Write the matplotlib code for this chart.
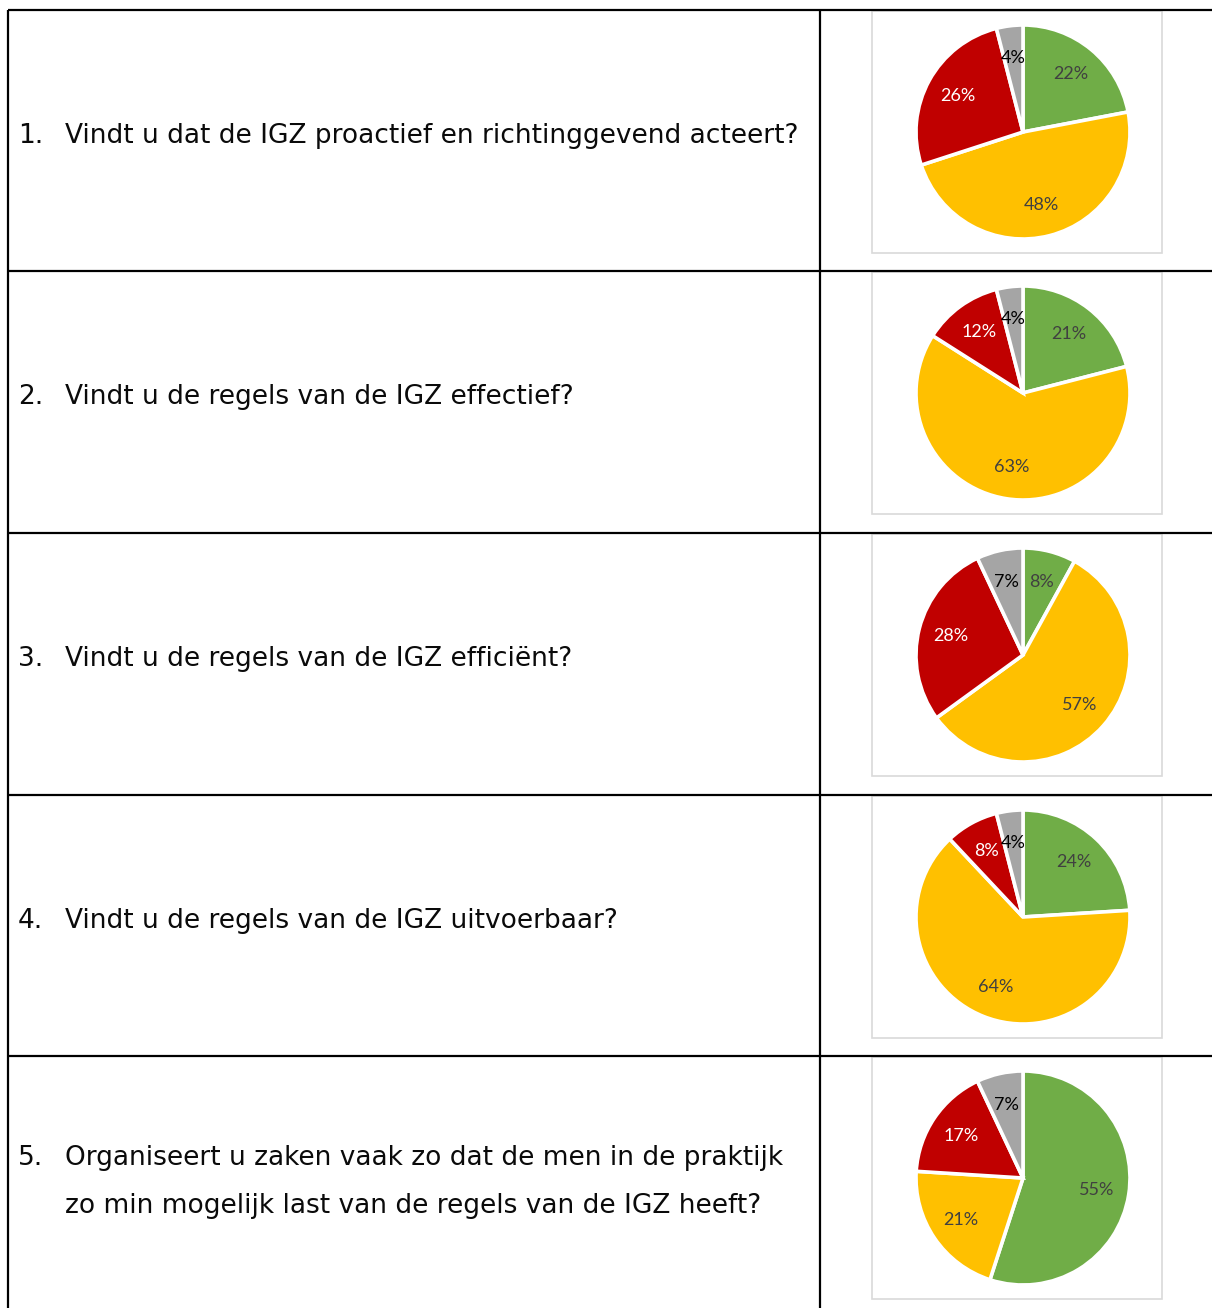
import matplotlib
matplotlib.use("Agg")
import matplotlib.pyplot as plt
from matplotlib.patches import Rectangle

# ---- data ----
numbers = ["1.", "2.", "3.", "4.", "5."]
questions = [
    ["Vindt u dat de IGZ proactief en richtinggevend acteert?"],
    ["Vindt u de regels van de IGZ effectief?"],
    ["Vindt u de regels van de IGZ efficiënt?"],
    ["Vindt u de regels van de IGZ uitvoerbaar?"],
    ["Organiseert u zaken vaak zo dat de men in de praktijk",
     "zo min mogelijk last van de regels van de IGZ heeft?"],
]
green = [22, 21, 8, 24, 55]
yellow = [48, 63, 57, 64, 21]
red = [26, 12, 28, 8, 17]
gray = [4, 4, 7, 4, 7]

colors = ["#70AD47", "#FFC000", "#C00000", "#A5A5A5"]
label_colors = ["#404040", "#404040", "#FFFFFF", "#000000"]

W, H = 1212, 1308
DPI = 100
fig = plt.figure(figsize=(W / DPI, H / DPI), dpi=DPI)
fig.patch.set_facecolor("white")

bg = fig.add_axes([0, 0, 1, 1])
bg.set_xlim(0, W)
bg.set_ylim(H, 0)
bg.axis("off")

row_tops = [10, 271, 533, 795, 1056]
lw_tab = 1.6

# table lines
for y in row_tops:
    bg.plot([8, W], [y, y], color="black", lw=lw_tab, solid_capstyle="butt")
for x in [8, 820]:
    bg.plot([x, x], [row_tops[0], H], color="black", lw=lw_tab, solid_capstyle="butt")

text_font = "DejaVu Sans"
fs = 19
line_gap = 48

for i in range(5):
    top = row_tops[i]
    lines = questions[i]
    n = len(lines)
    base0 = top + 133 - (n - 1) * line_gap / 2
    for j, ln in enumerate(lines):
        y = base0 + j * line_gap
        if j == 0:
            bg.text(18, y, numbers[i], fontsize=fs, family=text_font,
                    va="baseline", ha="left", color="#0a0a0a")
        bg.text(65, y, ln, fontsize=fs, family=text_font,
                va="baseline", ha="left", color="#0a0a0a")

    # chart frame
    fy0 = top + 1
    fh = 242
    bg.add_patch(Rectangle((872, fy0), 290, fh, facecolor="white",
                           edgecolor="#D9D9D9", lw=1.2))

    # pie
    cx, cy = 1023, fy0 + fh / 2
    r = 107
    pax = fig.add_axes([(cx - r) / W, 1 - (cy + r) / H, 2 * r / W, 2 * r / H])
    vals = [green[i], yellow[i], red[i], gray[i]]
    wedges, texts = pax.pie(
        vals, colors=colors, startangle=90, counterclock=False,
        labels=[f"{v}%" for v in vals], labeldistance=0.7,
        wedgeprops=dict(edgecolor="white", linewidth=2.6),
        textprops=dict(fontsize=13, family="Lato"),
    )
    for t, c in zip(texts, label_colors):
        t.set_color(c)
        t.set_ha("center")
        t.set_va("center")
    pax.set_xlim(-1, 1)
    pax.set_ylim(-1, 1)
    pax.set_aspect("equal")
    pax.axis("off")

fig.savefig("out.png", dpi=DPI, facecolor="white")
